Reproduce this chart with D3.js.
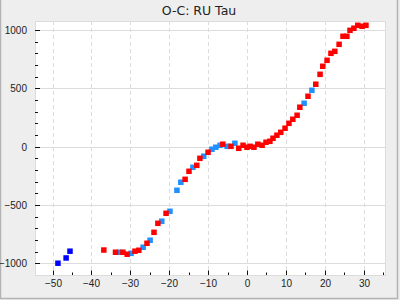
<!doctype html>
<html lang="en">
<head>
    <meta charset="utf-8">
    <title>O-C: RU Tau</title>
    <script src="https://cdnjs.cloudflare.com/ajax/libs/d3/7.8.5/d3.min.js"></script>
    <style>
        body { margin: 0; background: #eeeeee; }
        svg { display: block; font-family: 'DejaVu Sans', sans-serif; }
        .tick text { font-size: 10px; fill: #222; }
    </style>
</head>
<body>
<svg id="chart" width="400" height="300"></svg>
<script>
    // epochs (E) and O-C values, one pair of arrays per series
    const darkEpoch = [-48.6, -46.5, -45.5];
    const darkOC = [-999, -954, -896];

    const lightEpoch = [-32.7, -29.8, -26.7, -24.9, -21.9, -19.8, -18.0, -17.0, -13.9, -11.1,
        -9.0, -8.0, -6.9, -5.1, -3.1, 14.7, 16.7];
    const lightOC = [-905, -914, -862, -802, -639, -554, -374, -305, -177, -82,
        -22, -5, 12, 3, 29, 372, 483];

    const redEpoch = [-36.8, -33.8, -31.9, -30.8, -28.8, -27.8, -25.7, -23.9, -22.9, -20.8,
        -15.9, -14.9, -12.9, -12.1, -10.0, -6.2, -4.1, -2.1, -1.0, 0,
        0.8, 1.8, 2.8, 3.9, 4.9, 5.9, 6.7, 7.7, 8.7, 9.8,
        10.8, 11.8, 12.9, 13.6, 15.7, 17.7, 18.8, 19.5, 20.6, 21.6,
        22.6, 23.7, 24.7, 25.7, 26.5, 27.5, 28.5, 29.6, 30.6];
    const redOC = [-886, -905, -905, -922, -896, -888, -828, -734, -657, -571,
        -280, -211, -160, -100, -48, 21, 3, -14, 12, -5,
        3, -5, 21, 12, 38, 46, 72, 98, 123, 158,
        200, 235, 269, 338, 432, 535, 620, 689, 740, 800,
        817, 877, 946, 946, 997, 1015, 1040, 1032, 1040];

    const xMajor = [-50, -40, -30, -20, -10, 0, 10, 20, 30];
    const yMajor = [-1000, -500, 0, 500, 1000];

    const svg = d3.select("#chart");
    const W = 400, H = 300;
    const plot = {left: 35, top: 21, right: 385, bottom: 275};

    // outer frame
    svg.append("rect").attr("width", W).attr("height", H).attr("fill", "#eeeeee");
    svg.append("path")
        .attr("d", "M0.5,0V298.5H397.5V0")
        .attr("fill", "none").attr("stroke", "#b4b4b4").attr("stroke-width", 1.5);

    svg.append("text")
        .attr("x", 199).attr("y", 15)
        .attr("text-anchor", "middle")
        .attr("font-size", 12.5).attr("fill", "#222")
        .text("O-C: RU Tau");

    // rounded scales keep grid and tick lines on whole pixels
    const x = d3.scaleLinear().domain([-54.5, 35.5]).range([plot.left, plot.right]);
    const y = d3.scaleLinear().domain([-1100, 1077]).range([plot.bottom, plot.top]);
    const xr = x.copy().interpolate(d3.interpolateRound);
    const yr = y.copy().interpolate(d3.interpolateRound);

    // white panel
    svg.append("rect")
        .attr("x", plot.left + 0.5).attr("y", plot.top + 0.5)
        .attr("width", plot.right - plot.left).attr("height", plot.bottom - plot.top)
        .attr("fill", "#fff").attr("stroke", "#dcdcdc");

    // grid: solid horizontal, dashed vertical
    svg.append("g").selectAll("line").data(yMajor).join("line")
        .attr("x1", plot.left).attr("x2", plot.right)
        .attr("y1", d => yr(d) + 0.5).attr("y2", d => yr(d) + 0.5)
        .attr("stroke", "#dcdcdc");
    svg.append("g").selectAll("line").data(xMajor).join("line")
        .attr("y1", plot.top).attr("y2", plot.bottom)
        .attr("x1", d => xr(d) + 0.5).attr("x2", d => xr(d) + 0.5)
        .attr("stroke", "#dcdcdc").attr("stroke-dasharray", "4,3");

    // axes, ticks pointing into the panel
    const xMinor = d3.range(-50, 36, 5).filter(v => v % 10 !== 0);
    const yMinor = d3.range(-1000, 1001, 100).filter(v => v % 500 !== 0);

    svg.append("g").attr("transform", `translate(0,${plot.bottom})`)
        .call(d3.axisBottom(xr).tickValues(xMajor).tickSize(-4.5).tickPadding(5).tickFormat(d3.format("d")))
        .call(g => g.select(".domain").remove());
    svg.append("g").attr("transform", `translate(0,${plot.bottom})`)
        .call(d3.axisBottom(xr).tickValues(xMinor).tickSize(-2.5).tickFormat(""))
        .call(g => g.select(".domain").remove());

    svg.append("g").attr("transform", `translate(${plot.left},0)`)
        .call(d3.axisLeft(yr).tickValues(yMajor).tickSize(-5).tickPadding(8).tickFormat(d3.format("d")))
        .call(g => g.select(".domain").remove());
    svg.append("g").attr("transform", `translate(${plot.left},0)`)
        .call(d3.axisLeft(yr).tickValues(yMinor).tickSize(-3).tickFormat(""))
        .call(g => g.select(".domain").remove());

    svg.selectAll(".tick line").attr("stroke", "#111");

    // markers, red drawn last so it sits on top
    const size = 5.5;
    function squares(ex, oc, color) {
        svg.append("g").selectAll("rect").data(ex.map((e, i) => [e, oc[i]])).join("rect")
            .attr("x", d => x(d[0]) - size / 2)
            .attr("y", d => y(d[1]) - size / 2)
            .attr("width", size).attr("height", size)
            .attr("fill", color);
    }
    squares(darkEpoch, darkOC, "#0000ff");
    squares(lightEpoch, lightOC, "#1e90ff");
    squares(redEpoch, redOC, "#ff0000");
</script>
</body>
</html>
